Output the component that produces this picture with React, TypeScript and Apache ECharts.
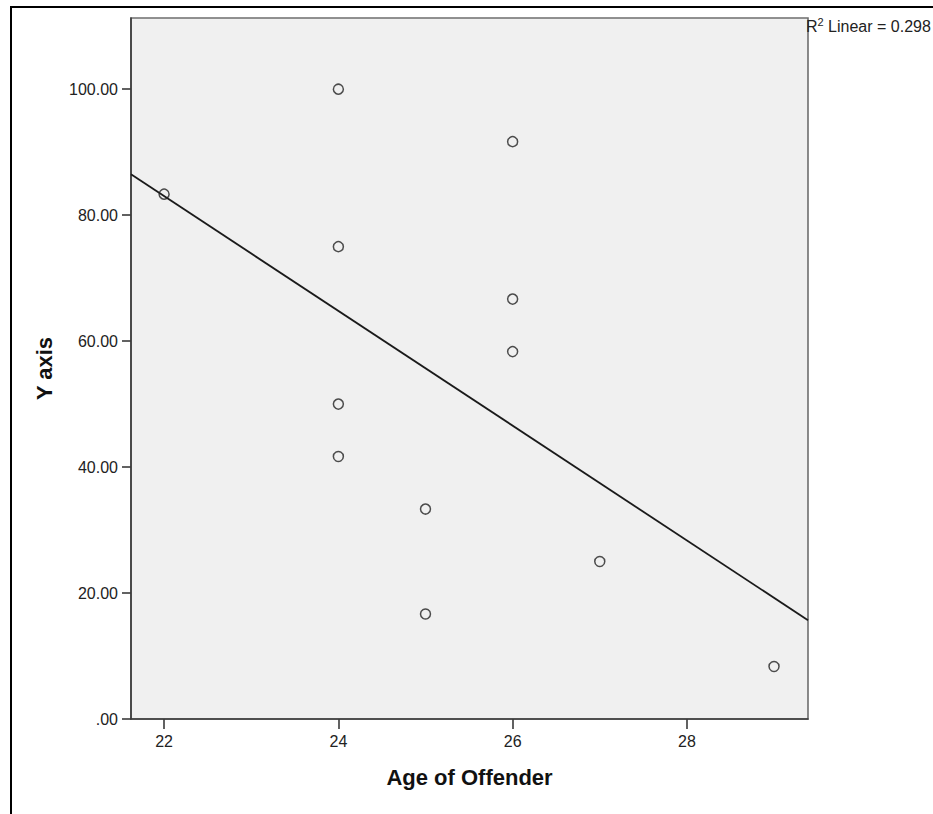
import React, { useEffect, useRef } from "react";
import * as echarts from "echarts";

// Age of offender vs. Y axis score
const ages = [22, 24, 24, 24, 24, 25, 25, 26, 26, 26, 27, 29];
const scores = [83.33, 100, 75, 50, 41.67, 33.33, 16.67, 91.67, 66.67, 58.33, 25, 8.33];

const xTicks = [22, 24, 26, 28];
const yTicks = [0, 20, 40, 60, 80, 100];

const X_MIN = 21.62;
const X_MAX = 29.39;
const Y_MIN = 0;
const Y_MAX = 111.3;

// Ordinary least squares fit of scores on ages
function linearFit(xs: number[], ys: number[]) {
  const n = xs.length;
  const mx = xs.reduce((a, b) => a + b, 0) / n;
  const my = ys.reduce((a, b) => a + b, 0) / n;
  let sxx = 0;
  let sxy = 0;
  let syy = 0;
  for (let i = 0; i < n; i++) {
    sxx += (xs[i] - mx) ** 2;
    sxy += (xs[i] - mx) * (ys[i] - my);
    syy += (ys[i] - my) ** 2;
  }
  const slope = sxy / sxx;
  const intercept = my - slope * mx;
  const r2 = (sxy * sxy) / (sxx * syy);
  return { slope, intercept, r2 };
}

const FONT = "'Liberation Sans', Arial, sans-serif";

export default function App() {
  const ref = useRef<HTMLDivElement>(null);

  useEffect(() => {
    if (!ref.current) return;
    const chart = echarts.init(ref.current, undefined, { renderer: "svg" });
    const fit = linearFit(ages, scores);
    const fitLine = [
      [X_MIN, fit.intercept + fit.slope * X_MIN],
      [X_MAX, fit.intercept + fit.slope * X_MAX],
    ];

    chart.setOption({
      animation: false,
      backgroundColor: "#ffffff",
      grid: {
        left: 131,
        top: 18,
        right: 125,
        bottom: 95,
        show: true,
        backgroundColor: "#f0f0f0",
        borderColor: "#6e6e6e",
        borderWidth: 1.6,
      },
      xAxis: {
        type: "value",
        min: X_MIN,
        max: X_MAX,
        name: "Age of Offender",
        nameLocation: "middle",
        nameGap: 47,
        nameTextStyle: { fontFamily: FONT, fontSize: 22, fontWeight: "bold", color: "#111" },
        axisLine: { show: true, onZero: false, lineStyle: { color: "#3a3a3a", width: 1.6 } },
        axisTick: { show: true, length: 10, customValues: xTicks, lineStyle: { color: "#3a3a3a", width: 1.6 } },
        axisLabel: {
          customValues: xTicks,
          margin: 14,
          fontFamily: FONT,
          fontSize: 16,
          color: "#222",
        },
        splitLine: { show: false },
      },
      yAxis: {
        type: "value",
        min: Y_MIN,
        max: Y_MAX,
        name: "Y axis",
        nameLocation: "middle",
        nameGap: 76,
        nameTextStyle: { fontFamily: FONT, fontSize: 22, fontWeight: "bold", color: "#111" },
        axisLine: { show: true, onZero: false, lineStyle: { color: "#3a3a3a", width: 1.6 } },
        axisTick: { show: true, length: 9, customValues: yTicks, lineStyle: { color: "#3a3a3a", width: 1.6 } },
        axisLabel: {
          customValues: yTicks,
          margin: 13,
          fontFamily: FONT,
          fontSize: 16,
          color: "#222",
          formatter: (v: number) => (v === 0 ? ".00" : v.toFixed(2)),
        },
        splitLine: { show: false },
      },
      series: [
        {
          type: "line",
          data: fitLine,
          showSymbol: false,
          symbol: "none",
          clip: true,
          lineStyle: { color: "#1a1a1a", width: 1.8 },
          z: 2,
        },
        {
          type: "scatter",
          data: ages.map((a, i) => [a, scores[i]]),
          symbol: "circle",
          symbolSize: 10,
          itemStyle: { color: "transparent", borderColor: "#222", borderWidth: 1.5 },
          z: 3,
        },
      ],
      graphic: [
        {
          type: "line",
          shape: { x1: 11, y1: 6, x2: 11, y2: 814 },
          style: { stroke: "#000", lineWidth: 2 },
        },
        {
          type: "line",
          shape: { x1: 10, y1: 7, x2: 933, y2: 7 },
          style: { stroke: "#000", lineWidth: 2 },
        },
        {
          type: "text",
          left: 806,
          top: 16,
          style: {
            text: `{r|R}{s|2}{t| Linear = ${fit.r2.toFixed(3)}}`,
            rich: {
              r: { fontFamily: FONT, fontSize: 16, fill: "#222", verticalAlign: "bottom" },
              s: { fontFamily: FONT, fontSize: 11, fill: "#222", verticalAlign: "top", padding: [0, 0, 7, 0] },
              t: { fontFamily: FONT, fontSize: 16, fill: "#222", verticalAlign: "bottom" },
            },
          },
        },
      ],
    });

    return () => chart.dispose();
  }, []);

  return (
    <div
      ref={ref}
      style={{ position: "fixed", left: 0, top: 0, width: 933, height: 814 }}
    />
  );
}
